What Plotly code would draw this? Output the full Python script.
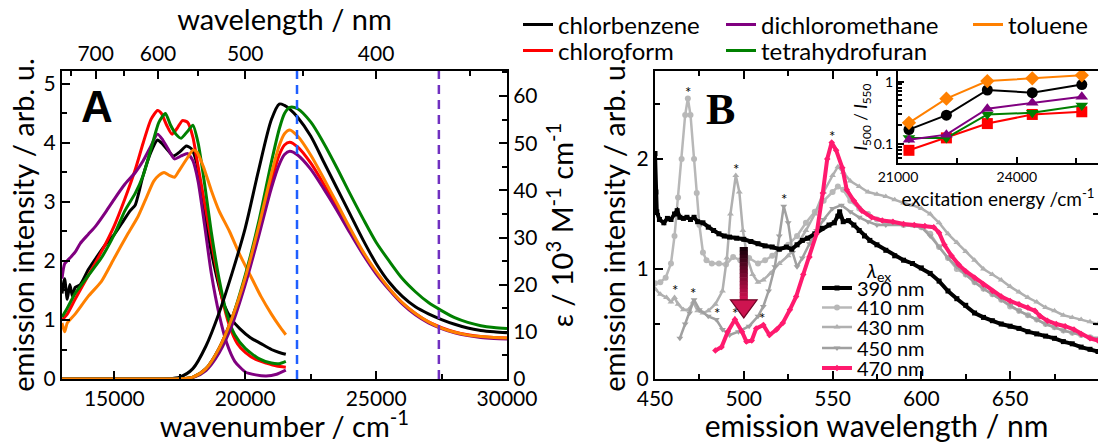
import plotly.graph_objects as go

# ------------------------------------------------------------------ data
# Panel A: absorption (right axis, 10^3 M^-1 cm^-1) on a shared wavenumber grid
abs_wn = [13000, 16000, 17000, 17500, 18000, 18500, 19000, 19500, 20000, 20500,
          21000, 21300, 21500, 21700, 22000, 22500, 23000, 23500, 24000, 24500,
          25000, 25500, 26000, 26500, 27000, 27500, 28000, 28500, 29000, 29500, 30000]
abs_chlorbenzene = [0, 0, 0.05, 0.4, 2.2, 7, 14, 22.5, 32, 44,
                    55, 58.3, 58.0, 57.2, 55.5, 51.5, 46, 40.5, 35, 29.5,
                    24.5, 20.5, 17.5, 15.3, 13.8, 12.6, 11.6, 10.8, 10.3, 10, 9.8]
abs_thf = [0, 0, 0, 0.05, 0.4, 2.2, 6.5, 13, 22, 33,
           46, 53, 56.3, 57.6, 57.3, 54.5, 50, 44.8, 39.3, 34,
           29, 25, 21.3, 18.5, 16.2, 14.5, 13, 12, 11.3, 10.9, 10.7]
abs_toluene = [0, 0, 0, 0.05, 0.4, 2.2, 6.5, 13, 21.5, 32,
               43.5, 49.5, 52, 52.8, 51.5, 47.5, 42.5, 37.3, 32, 27,
               22.8, 19.2, 16.2, 13.9, 12.1, 10.8, 9.9, 9.3, 9, 8.8, 8.7]
abs_chloroform = [0, 0, 0, 0.05, 0.4, 2.2, 6.5, 13, 21, 31,
                  42, 47.5, 49.6, 50.2, 49.2, 45.8, 41.3, 36.5, 31.5, 26.8,
                  22.6, 19.1, 16.1, 13.9, 12.1, 10.9, 10, 9.4, 9, 8.8, 8.7]
abs_dcm = [0, 0, 0, 0.03, 0.3, 1.8, 5.5, 11.5, 20, 30,
           40.5, 45.5, 47.6, 48.3, 47.5, 44.5, 40.3, 35.8, 31, 26.4,
           22.3, 18.9, 15.9, 13.6, 11.9, 10.7, 9.8, 9.2, 8.8, 8.6, 8.5]

# Panel A: emission (left axis)
em_cb_wn = [13000, 13100, 13200, 13300, 13400, 13500, 13700, 14000, 14300, 14700,
            15000, 15300, 15600, 15800, 15900, 16100, 16400, 16650, 16800, 17000,
            17250, 17500, 17750, 17950, 18150, 18350, 18600, 18900, 19200, 19500,
            19800, 20200, 20600, 21000, 21300, 21550]
em_cb_I = [1.45, 1.7, 1.35, 1.6, 1.4, 1.55, 1.6, 1.85, 2.05, 2.3,
           2.45, 2.65, 2.85, 2.95, 3.1, 3.45, 3.85, 4.05, 4.0, 3.9,
           3.78, 3.85, 3.95, 3.9, 3.65, 3.1, 2.4, 1.75, 1.25, 1.0,
           0.85, 0.7, 0.6, 0.5, 0.45, 0.42]
em_cf_wn = [13000, 13200, 13500, 14000, 14500, 15000, 15400, 15800, 16100, 16400,
            16650, 16800, 17000, 17200, 17400, 17600, 17800, 18000, 18200, 18500,
            18800, 19100, 19400, 19700, 20000, 20400, 20800, 21200, 21550]
em_cf_I = [1.0, 1.1, 1.35, 1.75, 2.15, 2.6, 3.05, 3.55, 4.0, 4.4,
           4.55, 4.5, 4.3, 4.15, 4.25, 4.38, 4.35, 4.1, 3.6, 2.85,
           2.1, 1.4, 0.9, 0.6, 0.45, 0.33, 0.27, 0.22, 0.2]
em_thf_wn = [13000, 13200, 13500, 14000, 14500, 15000, 15400, 15800, 16100, 16400,
             16700, 16950, 17150, 17350, 17550, 17800, 18000, 18200, 18450, 18700,
             19000, 19300, 19600, 20000, 20500, 21000, 21300, 21550]
em_thf_I = [1.05, 1.2, 1.45, 1.75, 2.05, 2.45, 2.85, 3.15, 3.45, 3.9,
            4.35, 4.5, 4.3, 4.15, 4.08, 4.2, 4.3, 4.0, 3.3, 2.5,
            1.7, 1.1, 0.75, 0.52, 0.35, 0.27, 0.26, 0.3]
em_dcm_wn = [13000, 13100, 13300, 13500, 13700, 14000, 14300, 14700, 15000, 15400,
             15800, 16100, 16400, 16650, 16850, 17050, 17300, 17550, 17800, 18000,
             18200, 18450, 18700, 19000, 19300, 19600, 20000, 20400, 20800, 21200, 21550]
em_dcm_I = [1.7, 1.95, 2.05, 2.15, 2.3, 2.45, 2.6, 2.85, 3.05, 3.3,
            3.5, 3.7, 3.95, 4.15, 4.05, 3.9, 3.73, 3.78, 3.82, 3.7,
            3.35, 2.6, 1.8, 1.1, 0.6, 0.3, 0.12, 0.07, 0.05, 0.08, 0.15]
em_tol_wn = [13000, 13100, 13200, 13500, 14000, 14500, 15000, 15500, 15900, 16200,
             16500, 16700, 16900, 17100, 17300, 17500, 17750, 18000, 18150, 18400,
             18700, 19000, 19400, 19800, 20200, 20600, 21000, 21300, 21550]
em_tol_I = [0.95, 0.8, 0.95, 1.1, 1.4, 1.65, 2.05, 2.45, 2.75, 3.05,
            3.35, 3.45, 3.5, 3.45, 3.42, 3.55, 3.72, 3.88, 3.85, 3.6,
            3.2, 2.85, 2.5, 2.1, 1.75, 1.4, 1.1, 0.9, 0.75]

# excitation wavelengths marked by dashed lines (nm)
exc_lines_nm = [455, 365]
# top axis wavelength ticks (nm)
wl_major = [700, 600, 500, 400]
wl_minor = [750, 650, 550, 450, 350]

# Panel B: emission spectra of chlorbenzene at several excitation wavelengths
b390_wl = [450, 450.5, 451, 452.5, 455, 457, 459, 461, 462.5, 464,
           466, 468, 470, 472, 474, 477, 480, 483, 486, 489,
           492, 496, 500, 504, 508, 512, 516, 520, 524, 527,
           530, 533, 536, 540, 544, 548, 551, 553, 554, 556,
           559, 562, 565, 568, 571, 575, 580, 585, 590, 595,
           600, 605, 610, 615, 620, 625, 630, 635, 640, 645,
           650, 655, 660, 665, 670, 675, 680, 685, 690, 695, 699.5]
b390_I = [2.05, 1.7, 1.52, 1.45, 1.42, 1.46, 1.45, 1.5, 1.53, 1.47,
          1.46, 1.47, 1.45, 1.47, 1.43, 1.42, 1.38, 1.35, 1.32, 1.3,
          1.29, 1.28, 1.27, 1.25, 1.23, 1.21, 1.2, 1.18, 1.2, 1.18,
          1.22, 1.26, 1.28, 1.32, 1.37, 1.4, 1.42, 1.48, 1.52, 1.43,
          1.44, 1.4, 1.35, 1.3, 1.26, 1.22, 1.17, 1.12, 1.08, 1.05,
          1.01, 0.96, 0.89, 0.8, 0.73, 0.67, 0.6, 0.56, 0.53, 0.5,
          0.48, 0.46, 0.43, 0.41, 0.39, 0.37, 0.34, 0.32, 0.29, 0.27, 0.25]
b410_wl = [450, 453, 456, 459, 461, 463, 465, 467, 468.5, 470,
           472, 473.5, 475, 477, 479, 482, 486, 490, 494, 498,
           503, 508, 512, 516, 520, 525, 530, 535, 540, 545,
           550, 553, 556, 560, 565, 570, 575, 580, 590, 600,
           605, 610, 615, 620, 625, 630, 635, 640, 645, 650,
           655, 660, 665, 670, 675, 680, 685, 690, 695, 699.5]
b410_I = [0.87, 0.88, 0.92, 1.05, 1.3, 1.65, 2.0, 2.4, 2.55, 2.4,
          2.0, 1.69, 1.4, 1.15, 1.08, 1.05, 1.05, 1.04, 1.11, 1.08,
          1.1, 1.05, 1.08, 1.12, 1.18, 1.22, 1.3, 1.42, 1.52, 1.62,
          1.7, 1.75, 1.72, 1.62, 1.55, 1.5, 1.45, 1.42, 1.4, 1.38,
          1.32, 1.2, 1.1, 1.0, 0.95, 0.88, 0.82, 0.77, 0.72, 0.66,
          0.62, 0.58, 0.54, 0.5, 0.47, 0.44, 0.42, 0.4, 0.38, 0.36]
b430_wl = [450, 453, 456.5, 459, 461, 463, 466, 469, 471.5, 474,
           477, 480, 484, 488, 490.5, 492.5, 495.5, 497.5, 499.5, 502,
           505, 508, 511, 515, 520, 525, 530, 535, 540, 545,
           550, 553, 556, 560, 565, 570, 575, 580, 585, 590,
           595, 600, 605, 610, 615, 620, 625, 630, 635, 640,
           645, 650, 655, 660, 665, 670, 675, 680, 685, 690, 695, 699.5]
b430_I = [0.82, 0.77, 0.74, 0.7, 0.74, 0.68, 0.63, 0.63, 0.7, 0.62,
          0.6, 0.62, 0.68, 0.8, 1.1, 1.5, 1.85, 1.7, 1.35, 1.1,
          0.95, 0.88, 0.9, 0.96, 1.05, 1.12, 1.22, 1.35, 1.5, 1.7,
          1.85, 1.93, 1.88, 1.8, 1.75, 1.7, 1.68, 1.66, 1.63, 1.6,
          1.58, 1.55, 1.5, 1.42, 1.32, 1.24, 1.16, 1.08, 1.0, 0.95,
          0.9, 0.84, 0.79, 0.74, 0.7, 0.65, 0.62, 0.58, 0.56, 0.54, 0.52, 0.5]
b450_wl = [464, 467, 469.5, 472, 475, 480, 484.5, 488, 492, 497,
           503, 508, 511, 514, 517.5, 520, 522.5, 525, 527.5, 530,
           533, 537, 541, 545, 550, 555, 560, 565, 570, 575,
           580, 590, 600, 605, 610, 615, 620, 625, 630, 635,
           640, 645, 650, 655, 660, 665, 670, 675, 680, 685,
           690, 695, 699.5]
b450_I = [0.37, 0.5, 0.6, 0.72, 0.63, 0.57, 0.54, 0.45, 0.4, 0.43,
          0.48, 0.57, 0.66, 0.8, 1.02, 1.3, 1.57, 1.42, 1.15, 1.02,
          1.1, 1.23, 1.35, 1.45, 1.55, 1.58, 1.52, 1.47, 1.43, 1.4,
          1.4, 1.4, 1.38, 1.3, 1.2, 1.1, 1.02, 0.95, 0.88, 0.82,
          0.77, 0.72, 0.67, 0.62, 0.58, 0.54, 0.5, 0.47, 0.44, 0.42,
          0.4, 0.38, 0.37]
b470_wl = [484, 487.5, 491, 495, 499, 501.5, 504.5, 507, 511, 514.5,
           518.5, 522, 526, 529.5, 533.5, 537, 541, 544.5, 547, 549.5,
           552, 555.5, 558, 562, 566.5, 572, 578, 584, 590, 596,
           602, 607, 610, 613, 617, 621, 625, 630, 635, 640,
           645, 650, 655, 660, 664, 667, 671, 676, 681, 686,
           690, 695, 699.5]
b470_I = [0.26, 0.29, 0.43, 0.54, 0.43, 0.34, 0.35, 0.46, 0.49, 0.4,
          0.45, 0.51, 0.63, 0.75, 0.95, 1.11, 1.32, 1.69, 2.0, 2.15,
          2.08, 1.92, 1.72, 1.62, 1.53, 1.47, 1.44, 1.43, 1.41, 1.4,
          1.39, 1.38, 1.33, 1.22, 1.12, 1.04, 0.98, 0.92, 0.86, 0.8,
          0.75, 0.71, 0.68, 0.65, 0.62, 0.57, 0.53, 0.5, 0.48, 0.45,
          0.41, 0.37, 0.35]
# Raman peaks marked with asterisks (nm, intensity of the peak)
star_wl = [468.5, 495.5, 522.5, 549.5, 461, 471.5, 485, 495, 510]
star_I = [2.55, 1.85, 1.57, 2.15, 0.75, 0.72, 0.54, 0.54, 0.49]

# Inset: I500/I550 vs excitation wavelength
inset_exc_nm = [470, 450, 430, 410, 390]
ratio_toluene = [0.218, 0.532, 1.02, 1.13, 1.26]
ratio_chlorbenzene = [0.17, 0.289, 0.733, 0.665, 0.895]
ratio_dcm = [0.117, 0.141, 0.367, 0.458, 0.573]
ratio_thf = [0.125, 0.125, 0.297, 0.316, 0.415]
ratio_chloroform = [0.079, 0.125, 0.212, 0.297, 0.328]

# ------------------------------------------------------------------ styles
W, H = 1098, 443
C_BLACK, C_RED, C_PURPLE, C_GREEN, C_ORANGE = "#000000", "#ff0000", "#800080", "#008000", "#ff8000"
FONT = "Lato"

A_X = [62 / W, 507 / W]
B_X = [655 / W, 1.0]
P_Y = [1 - 379 / H, 1 - 71 / H]
IN_X = [898 / W, 1.0]
IN_Y = [1 - 163 / H, 1 - 71 / H]
A_YMAX, A_Y2MAX = 5.22, 65.3
B_YMAX = 2.8


def nm_to_wn(v):
    return [1e7 / x for x in v]


def px(x):
    return x / W


def py(y):
    return 1 - y / H


fig = go.Figure()

# ---- Panel A  (legend slots: column x-position, row y-position in px)
solvent_sets = [
    ("chlorbenzene", C_BLACK, em_cb_wn, em_cb_I, abs_chlorbenzene, "legend", 518, 25),
    ("chloroform", C_RED, em_cf_wn, em_cf_I, abs_chloroform, "legend2", 518, 51),
    ("dichloromethane", C_PURPLE, em_dcm_wn, em_dcm_I, abs_dcm, "legend3", 721, 25),
    ("tetrahydrofuran", C_GREEN, em_thf_wn, em_thf_I, abs_thf, "legend4", 721, 51),
    ("toluene", C_ORANGE, em_tol_wn, em_tol_I, abs_toluene, "legend5", 968, 25),
]
for name, col, ewn, eI, ab, leg, lx, ly in solvent_sets:
    fig.add_trace(go.Scatter(x=abs_wn, y=ab, mode="lines", name=name, showlegend=False,
                             line=dict(color=col, width=3, shape="spline", smoothing=0.8),
                             xaxis="x", yaxis="y2"))
for name, col, ewn, eI, ab, leg, lx, ly in solvent_sets:
    fig.add_trace(go.Scatter(x=ewn, y=eI, mode="lines", name=name, legend=leg,
                             line=dict(color=col, width=3, shape="spline", smoothing=0.6),
                             xaxis="x", yaxis="y"))

for nm, col in zip(exc_lines_nm, ["#1f5fff", "#7030c0"]):
    fig.add_trace(go.Scatter(x=nm_to_wn([nm, nm]), y=[0, A_YMAX], mode="lines", showlegend=False,
                             line=dict(color=col, width=2.5, dash="9px,6px"),
                             xaxis="x2", yaxis="y"))

# ---- Panel B
b_sets = [
    ("410 nm", "#b8b8b8", b410_wl, b410_I, "circle", 2.5, 6, "legend7", 307.5),
    ("430 nm", "#b0b0b0", b430_wl, b430_I, "triangle-up", 2.5, 6, "legend8", 327),
    ("450 nm", "#a0a0a0", b450_wl, b450_I, "triangle-down", 2.5, 6, "legend9", 348),
    ("390 nm", "#000000", b390_wl, b390_I, "square", 4, 5, "legend6", 288),
    ("470 nm", "#ff1a6e", b470_wl, b470_I, "diamond", 4, 5, "legend10", 368),
]
for name, col, wl, I, sym, lw, ms, leg, ly in b_sets:
    fig.add_trace(go.Scatter(x=wl, y=I, mode="lines+markers", name=name, legend=leg,
                             line=dict(color=col, width=lw),
                             marker=dict(symbol=sym, size=ms, color=col),
                             xaxis="x3", yaxis="y3"))

# ---- Inset
inset_sets = [
    ("chloroform", C_RED, ratio_chloroform, "square"),
    ("tetrahydrofuran", C_GREEN, ratio_thf, "triangle-down"),
    ("dichloromethane", C_PURPLE, ratio_dcm, "triangle-up"),
    ("chlorbenzene", C_BLACK, ratio_chlorbenzene, "circle"),
    ("toluene", C_ORANGE, ratio_toluene, "diamond"),
]
for name, col, r, sym in inset_sets:
    fig.add_trace(go.Scatter(x=nm_to_wn(inset_exc_nm), y=r, mode="lines+markers", showlegend=False,
                             line=dict(color=col, width=2),
                             marker=dict(symbol=sym, size=11, color=col),
                             xaxis="x4", yaxis="y4"))


# ------------------------------------------------------------------ axes
def ax(**kw):
    base = dict(showline=True, linewidth=2, linecolor="black", ticks="inside", ticklen=8,
                tickwidth=2, tickcolor="black", showgrid=False, zeroline=False,
                tickfont=dict(size=21, family=FONT, color="black"))
    base.update(kw)
    return base


def minor(**kw):
    base = dict(ticks="inside", ticklen=5, tickwidth=2, tickcolor="black", showgrid=False)
    base.update(kw)
    return base


TITLE_FONT = dict(size=29, family=FONT, color="black")

fig.update_layout(
    xaxis=ax(domain=A_X, anchor="y", range=[13000, 30000], tickvals=[15000, 20000, 25000, 30000],
             tickformat="d", minor=minor(tickvals=[17500, 22500, 27500]),
             title=dict(text="wavenumber / cm<sup>-1</sup>", font=TITLE_FONT, standoff=15)),
    xaxis2=ax(overlaying="x", anchor="y", side="top", range=[13000, 30000],
              tickvals=nm_to_wn(wl_major), ticktext=[str(v) for v in wl_major],
              minor=minor(tickvals=nm_to_wn(wl_minor)),
              title=dict(text="wavelength / nm", font=TITLE_FONT, standoff=0)),
    yaxis=ax(domain=P_Y, anchor="x", range=[0, A_YMAX], tickvals=[0, 1, 2, 3, 4, 5],
             minor=minor(dtick=0.5),
             title=dict(text="emission intensity / arb. u.", font=TITLE_FONT, standoff=0)),
    yaxis2=ax(overlaying="y", anchor="x", side="right", range=[0, A_Y2MAX],
              tickvals=[0, 10, 20, 30, 40, 50, 60], minor=minor(dtick=5),
              title=dict(text="ε / 10<sup>3</sup> M<sup>-1</sup> cm<sup>-1</sup>", font=TITLE_FONT, standoff=16)),
    xaxis3=ax(domain=B_X, anchor="y3", range=[450, 699.5], tickvals=[450, 500, 550, 600, 650],
              minor=minor(dtick=25), mirror="ticks",
              title=dict(text="emission wavelength / nm", font=dict(size=30, family=FONT, color="black"), standoff=16)),
    yaxis3=ax(domain=P_Y, anchor="x3", range=[0, B_YMAX], tickvals=[0, 1, 2],
              minor=minor(dtick=0.5), mirror="ticks",
              title=dict(text="emission intensity / arb. u.", font=TITLE_FONT, standoff=2)),
    xaxis4=ax(domain=IN_X, anchor="y4", range=[21000, 26050], tickvals=[21000, 24000], tickformat="d",
              minor=minor(tickvals=[22500, 25500]), mirror=True, ticklen=6,
              tickfont=dict(size=14, family=FONT, color="black"),
              title=dict(text="excitation energy /cm<sup>-1</sup>", font=dict(size=19, family=FONT, color="black"), standoff=2)),
    yaxis4=ax(domain=IN_Y, anchor="x4", type="log", range=[-1.306, 0.17], tickvals=[0.1, 1],
              ticktext=["0.1", "1"], mirror=True, ticklen=6,
              minor=minor(tickvals=[0.06, 0.07, 0.08, 0.09, 0.2, 0.3, 0.4, 0.5, 0.6, 0.7, 0.8, 0.9], ticklen=4),
              tickfont=dict(size=14, family=FONT, color="black"),
              title=dict(text="<i>I</i><sub>500</sub> / <i>I</i><sub>550</sub>", font=dict(size=17, family=FONT, color="black"), standoff=0)),
)

layout_legends = {}
for name, col, ewn, eI, ab, leg, lx, ly in solvent_sets:
    layout_legends[leg] = dict(x=px(lx), y=py(ly), xanchor="left", yanchor="middle", orientation="v",
                               font=dict(size=24, family=FONT, color="black"), bgcolor="rgba(0,0,0,0)",
                               itemclick=False, itemdoubleclick=False)
for name, col, wl, I, sym, lw, ms, leg, ly in b_sets:
    layout_legends[leg] = dict(x=px(817), y=py(ly), xanchor="left", yanchor="middle", orientation="v",
                               font=dict(size=20, family=FONT, color="black"), bgcolor="rgba(0,0,0,0)",
                               itemclick=False, itemdoubleclick=False)

fig.update_layout(
    width=W, height=H, margin=dict(l=0, r=0, t=0, b=0, autoexpand=False),
    paper_bgcolor="white", plot_bgcolor="white",
    font=dict(family=FONT, size=20, color="black"),
    showlegend=True,
    **layout_legends,
)

# legend heading for panel B
fig.add_annotation(text="<i>λ</i><sub>ex</sub>", x=px(864), y=py(271), xref="paper", yref="paper",
                   xanchor="left", yanchor="middle", showarrow=False,
                   font=dict(size=20, family=FONT, color="black"))

# panel labels
fig.add_annotation(text="<b>A</b>", x=px(97), y=py(106), xref="paper", yref="paper",
                   xanchor="center", yanchor="middle", showarrow=False,
                   font=dict(size=44, family="Liberation Sans", color="black"))
fig.add_annotation(text="<b>B</b>", x=px(720), y=py(110), xref="paper", yref="paper",
                   xanchor="center", yanchor="middle", showarrow=False,
                   font=dict(size=44, family="Liberation Serif", color="black"))

# asterisks marking Raman peaks
for xs, ys in zip(star_wl, star_I):
    fig.add_annotation(text="*", x=xs, y=ys, xref="x3", yref="y3", showarrow=False,
                       xanchor="center", yanchor="bottom", yshift=-4,
                       font=dict(size=15, family=FONT, color="black"))

# gradient arrow (black -> crimson) pointing down at 500 nm
ARROW_X, ARROW_TOP, ARROW_NECK, ARROW_TIP = 500, 1.2, 0.72, 0.555
SHAFT_HW, HEAD_HW = 2.3, 7.5
N = 14
c0, c1 = (25, 0, 10), (200, 16, 78)
for i in range(N):
    t = i / (N - 1)
    col = "rgb(%d,%d,%d)" % tuple(round(a + (b - a) * t) for a, b in zip(c0, c1))
    y_hi = ARROW_TOP - (ARROW_TOP - ARROW_NECK) * i / N
    y_lo = ARROW_TOP - (ARROW_TOP - ARROW_NECK) * (i + 1) / N - 0.005
    fig.add_shape(type="rect", xref="x3", yref="y3", x0=ARROW_X - SHAFT_HW, x1=ARROW_X + SHAFT_HW,
                  y0=y_lo, y1=y_hi, fillcolor=col, line=dict(width=0), layer="above")
fig.add_shape(type="path", xref="x3", yref="y3",
              path="M %f,%f L %f,%f L %f,%f Z" % (ARROW_X - HEAD_HW, ARROW_NECK, ARROW_X + HEAD_HW,
                                                 ARROW_NECK, ARROW_X, ARROW_TIP),
              fillcolor="rgb(205,20,80)", line=dict(color="rgb(110,0,35)", width=1.2), layer="above")

fig.write_html("out.html")
